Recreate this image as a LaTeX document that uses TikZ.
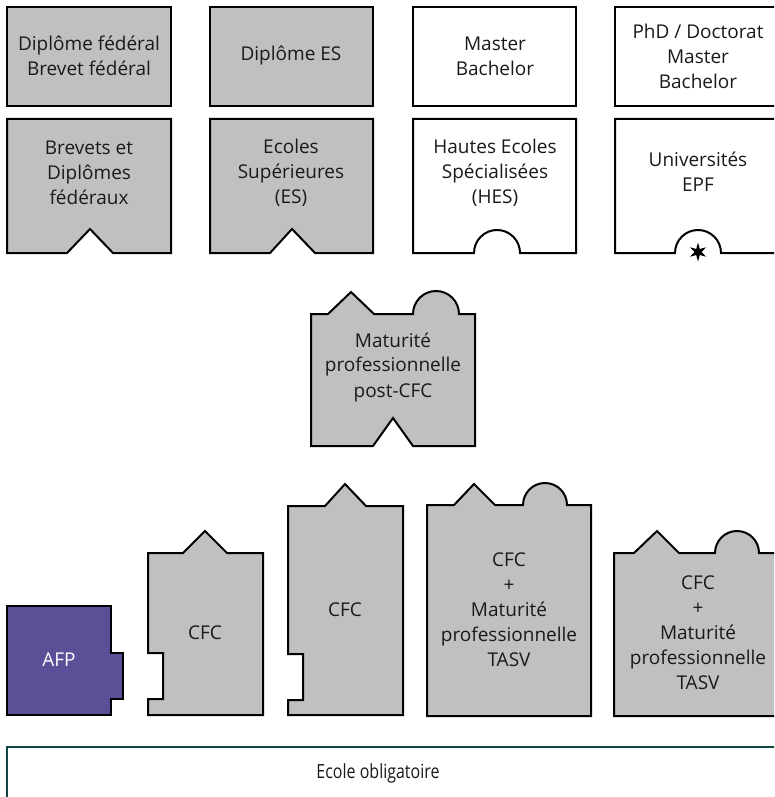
\documentclass[tikz,border=0pt]{standalone}
\usepackage{fontspec}
\usepackage{graphicx}
\setmainfont{Open Sans}
\definecolor{boxgray}{HTML}{C0C0C0}
\definecolor{afppurple}{HTML}{5B4F97}
\definecolor{ecoleteal}{HTML}{0F4545}
\definecolor{textdark}{HTML}{1A1A1A}
\begin{document}
\begin{tikzpicture}[x=1pt,y=-1pt,
  shapegray/.style={draw=black,line width=2pt,fill=boxgray,line join=miter},
  shapewhite/.style={draw=black,line width=2pt,fill=white,line join=miter},
  label/.style={align=center,inner sep=0pt,font=\fontsize{19}{25}\selectfont,text=textdark}]
\useasboundingbox (0,0) rectangle (774,797);
\clip (0,0) rectangle (774,797);
% top row
\draw[shapegray] (7,7) rectangle (171,106);
\draw[shapegray] (210,7) rectangle (373,106);
\draw[shapewhite] (413,7) rectangle (576,106);
\draw[shapewhite] (615,7) rectangle (790,106);
% second row
\draw[shapegray] (7,119) -- (171,119) -- (171,253) -- (113,253) -- (90,229) -- (67,253) -- (7,253) -- cycle;
\draw[shapegray] (210,119) -- (373,119) -- (373,253) -- (315,253) -- (292,229) -- (270,253) -- (210,253) -- cycle;
\draw[shapewhite] (413,119) -- (576,119) -- (576,253) -- (520,253) arc[start angle=0,end angle=-180,radius=23] -- (413,253) -- cycle;
\draw[shapewhite] (615,119) -- (790,119) -- (790,253) -- (721,253) arc[start angle=0,end angle=-180,radius=23] -- (615,253) -- cycle;
% star
\fill[black] (698,252) +(90:9.5) -- +(120:3.5) -- +(150:9.5) -- +(180:3.5) -- +(210:9.5) -- +(240:3.5) -- +(270:9.5) -- +(300:3.5) -- +(330:9.5) -- +(0:3.5) -- +(30:9.5) -- +(60:3.5) -- cycle;
% maturite post-CFC
\draw[shapegray] (311,314) -- (328,314) -- (351,292) -- (374,314) -- (413,314) arc[start angle=180,end angle=360,radius=23] -- (475,314) -- (475,446) -- (413,446) -- (393,418) -- (373,446) -- (311,446) -- cycle;
% bottom row
\draw[draw=black,line width=2pt,fill=afppurple,line join=miter] (7,606) -- (111,606) -- (111,653) -- (123,653) -- (123,699) -- (111,699) -- (111,715) -- (7,715) -- cycle;
\draw[shapegray] (148,553) -- (183,553) -- (205,531) -- (227,553) -- (263,553) -- (263,715) -- (148,715) -- (148,699) -- (163,699) -- (163,653) -- (148,653) -- cycle;
\draw[shapegray] (288,506) -- (325,506) -- (345,484) -- (366,506) -- (403,506) -- (403,715) -- (288,715) -- (288,700) -- (303,700) -- (303,654) -- (288,654) -- cycle;
\draw[shapegray] (427,505) -- (454,505) -- (474,484) -- (495,505) -- (523,505) arc[start angle=180,end angle=360,radius=22] -- (591,505) -- (591,716) -- (427,716) -- cycle;
\draw[shapegray] (614,553) -- (634,553) -- (657,531) -- (679,553) -- (715,553) arc[start angle=180,end angle=360,radius=22] -- (790,553) -- (790,716) -- (614,716) -- cycle;
% ecole obligatoire
\draw[ecoleteal,line width=2.5pt] (7,810) -- (7,747) -- (790,747);
% labels
\node[label] (t1) at (89,56) {Diplôme fédéral\\Brevet fédéral};
\node[label] (t2) at (291,56) {Diplôme ES};
\node[label] (t5) at (495,56) {Master\\Bachelor};
\node[label] (t6) at (698,56) {PhD / Doctorat\\Master\\Bachelor};
\node[label] (t3) at (89,173) {Brevets et\\Diplômes\\fédéraux};
\node[label] (t4) at (291,173) {Ecoles\\Supérieures\\(ES)};
\node[label] (t7) at (495,173) {Hautes Ecoles\\Spécialisées\\(HES)};
\node[label] (t8) at (698,172) {Universités\\EPF};
\node[label] (tm) at (393,367) {Maturité\\professionnelle\\post-CFC};
\node[label,text=white] (afp) at (59,660) {AFP};
\node[label] (cfc1) at (205,633) {CFC};
\node[label] (cfc2) at (345,610) {CFC};
\node[label] (mp1) at (509,610) {CFC\\+\\Maturité\\professionnelle\\TASV};
\node[label] (mp2) at (698,633) {CFC\\+\\Maturité\\professionnelle\\TASV};
\node[label,font=\fontsize{19.5}{22}\selectfont] (ecole) at (378,773) {\scalebox{0.82}[1]{Ecole obligatoire}};
\end{tikzpicture}
\end{document}
